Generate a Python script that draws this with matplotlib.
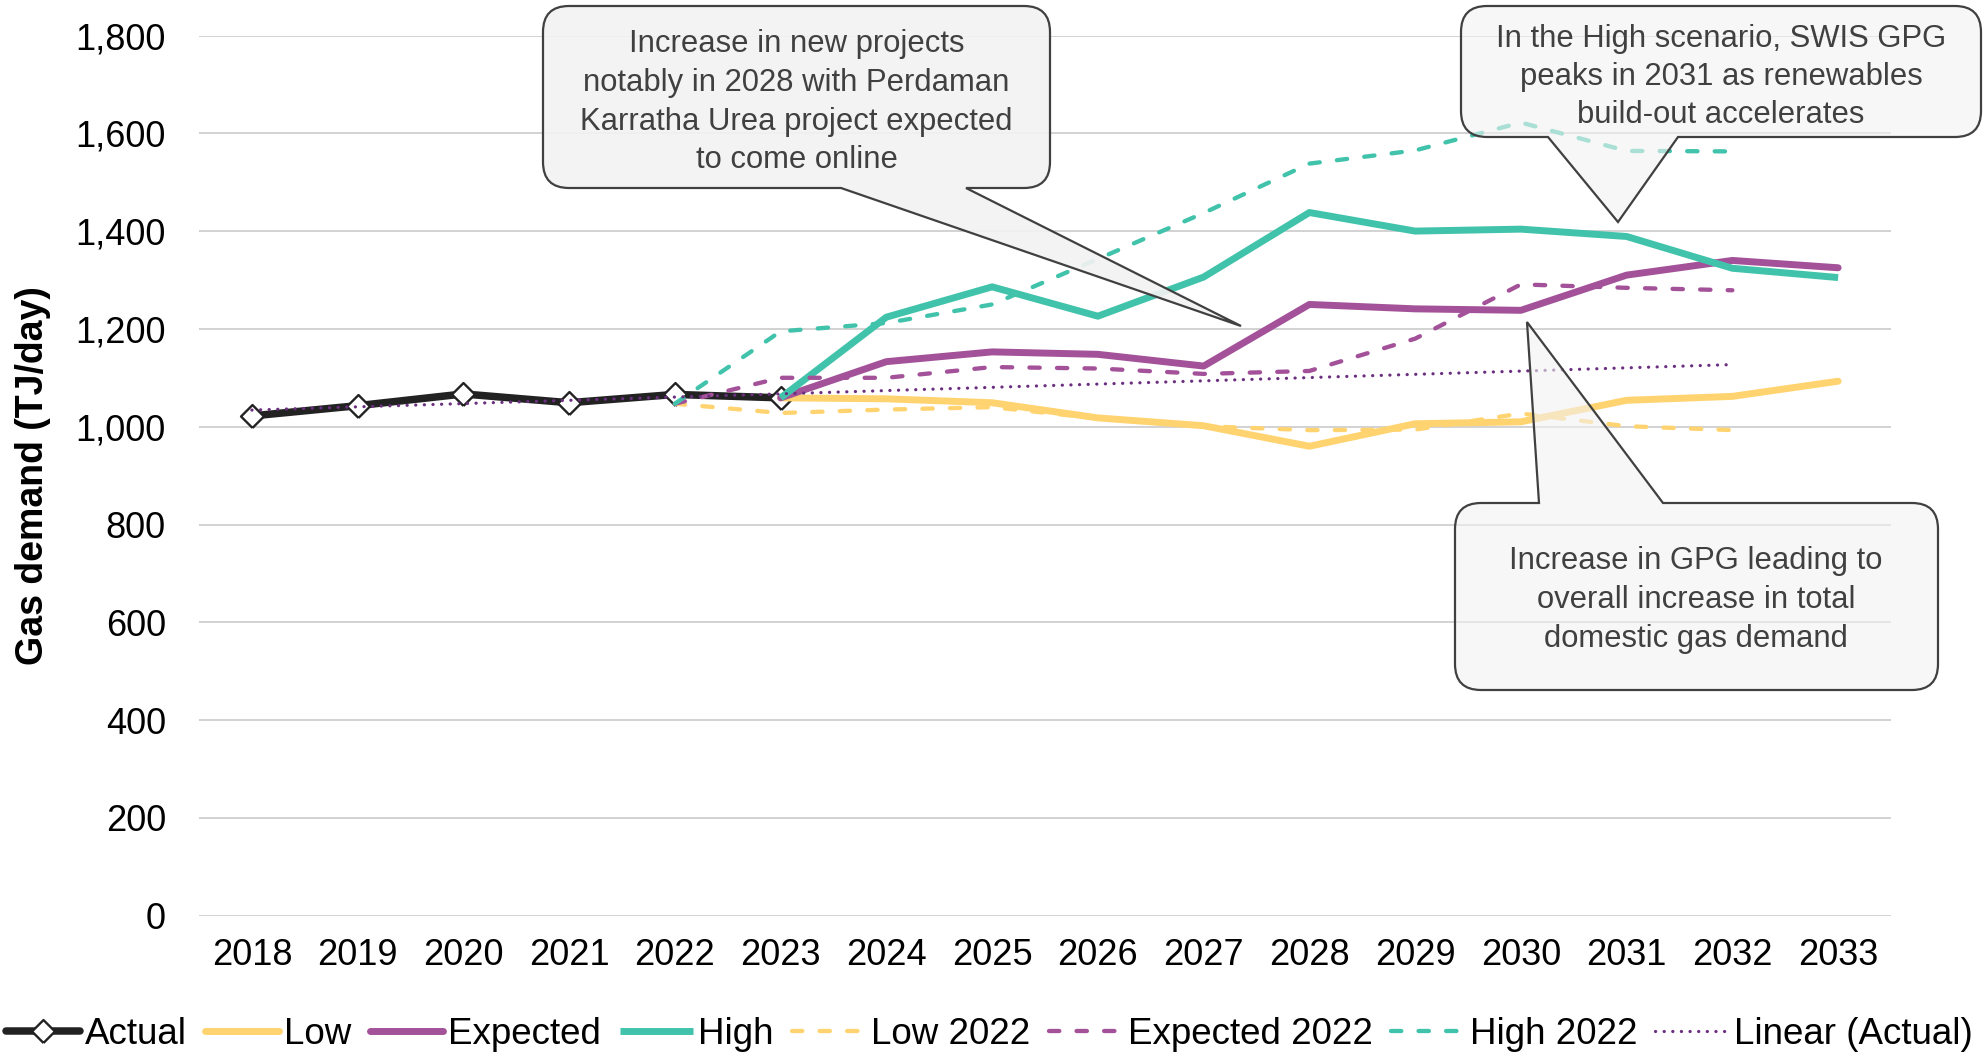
import numpy as np
import matplotlib
matplotlib.use('Agg')
import matplotlib.pyplot as plt
from matplotlib.path import Path
from matplotlib.patches import PathPatch
from matplotlib.transforms import Affine2D
from matplotlib.ticker import FuncFormatter, MultipleLocator

plt.rcParams['font.family'] = ['Liberation Sans', 'DejaVu Sans']

# ---------------- data ----------------
years = ['2018', '2019', '2020', '2021', '2022', '2023', '2024', '2025',
         '2026', '2027', '2028', '2029', '2030', '2031', '2032', '2033']

actual_years = ['2018', '2019', '2020', '2021', '2022', '2023']
actual = [1022, 1043, 1067, 1049, 1066, 1059]

scen_years = ['2023', '2024', '2025', '2026', '2027', '2028',
              '2029', '2030', '2031', '2032', '2033']
low = [1059, 1057, 1049, 1018, 1002, 960, 1006, 1010, 1054, 1062, 1093]
expected = [1059, 1133, 1153, 1148, 1124, 1250, 1241, 1238, 1310, 1340, 1325]
high = [1059, 1224, 1286, 1226, 1306, 1438, 1400, 1404, 1389, 1324, 1305]

prev_years = ['2022', '2023', '2024', '2025', '2026', '2027',
              '2028', '2029', '2030', '2031', '2032']
low_2022 = [1047, 1028, 1035, 1040, 1017, 1001, 993, 994, 1027, 1001, 993]
expected_2022 = [1047, 1100, 1100, 1122, 1119, 1108, 1114, 1180, 1291, 1284, 1279]
high_2022 = [1047, 1195, 1212, 1250, 1343, 1437, 1538, 1565, 1622, 1564, 1563]

trend_years = ['2018', '2032']
trend = [1034, 1127]

labels = ['Actual', 'Low', 'Expected', 'High', 'Low 2022', 'Expected 2022',
          'High 2022', 'Linear (Actual)']

# ---------------- styles ----------------
C_ACT = '#222222'
C_LOW = '#FFD470'
C_EXP = '#A35299'
C_HIGH = '#41C3AB'
C_LIN = '#6B2F80'
C_GRID = '#C6C6C6'
C_CALL = '#404040'

W, H = 1985, 1055
fig = plt.figure(figsize=(W / 100, H / 100), dpi=100)
ax_left, ax_right, ax_top, ax_bot = 199, 1891, 35.5, 915.7
ax = fig.add_axes([ax_left / W, 1 - ax_bot / H, (ax_right - ax_left) / W,
                   (ax_bot - ax_top) / H])

pos = {y: i for i, y in enumerate(years)}
def xs(ylist):
    return [pos[y] for y in ylist]

diamond = [(0, -1), (1, 0), (0, 1), (-1, 0), (0, -1)]

handles = []
h, = ax.plot(xs(actual_years), actual, color=C_ACT, lw=5.4, marker=diamond,
             markersize=16.5, markerfacecolor='white', markeredgecolor=C_ACT,
             markeredgewidth=1.7, solid_capstyle='round', solid_joinstyle='round',
             zorder=3)
handles.append(h)
for vals, col, cap in [(low, C_LOW, 'round'), (expected, C_EXP, 'round'),
                       (high, C_HIGH, 'butt')]:
    h, = ax.plot(xs(scen_years), vals, color=col, lw=5.0,
                 solid_capstyle=cap, solid_joinstyle='round', zorder=4)
    handles.append(h)
for vals, col in [(low_2022, C_LOW), (expected_2022, C_EXP), (high_2022, C_HIGH)]:
    h, = ax.plot(xs(prev_years), vals, color=col, lw=3.1,
                 linestyle=(0, (2.4, 4.0)), dash_capstyle='round',
                 dash_joinstyle='round', zorder=5)
    handles.append(h)
h, = ax.plot(xs(trend_years), trend, color=C_LIN, lw=2.3,
             linestyle=(0, (0.05, 2.65)), dash_capstyle='round', zorder=6)
handles.append(h)

ax.set_xlim(-0.5, len(years) - 0.5)
ax.set_ylim(0, 1800)
ax.set_xticks(range(len(years)))
ax.set_xticklabels(years)
ax.yaxis.set_major_locator(MultipleLocator(200))
ax.yaxis.set_major_formatter(FuncFormatter(lambda v, p: f'{v:,.0f}'))
ax.tick_params(axis='both', length=0, labelsize=26, colors='black')
ax.tick_params(axis='x', pad=16)
ax.tick_params(axis='y', pad=23.8)
ax.grid(axis='y', color=C_GRID, lw=1.1, zorder=0)
ax.set_axisbelow(True)
for s in ax.spines.values():
    s.set_visible(False)

fig.text(33 / W, 1 - 475.5 / H, 'Gas demand (TJ/day)', rotation=90,
         ha='center', va='center', fontsize=27, fontweight='bold')

fig.legend(handles, labels, loc='center', bbox_to_anchor=(0.4985, 0.0199),
           ncol=8, frameon=False, fontsize=26.5, handlelength=2.0,
           handletextpad=0.14, columnspacing=0.5, borderpad=0,
           borderaxespad=0)

# ---------------- callouts ----------------
px = Affine2D().scale(1 / W, -1 / H).translate(0, 1) + fig.transFigure

def callout_path(x0, y0, x1, y1, r, side, b0, b1, tip):
    verts, codes = [], []
    def mv(p):
        verts.append(p); codes.append(Path.MOVETO)
    def ln(p):
        verts.append(p); codes.append(Path.LINETO)
    def cv(c, p):
        verts.extend([c, p]); codes.extend([Path.CURVE3, Path.CURVE3])
    mv((x0 + r, y0))
    if side == 'top':
        ln((b0, y0)); ln(tip); ln((b1, y0))
    ln((x1 - r, y0)); cv((x1, y0), (x1, y0 + r))
    ln((x1, y1 - r)); cv((x1, y1), (x1 - r, y1))
    if side == 'bottom':
        ln((b1, y1)); ln(tip); ln((b0, y1))
    ln((x0 + r, y1)); cv((x0, y1), (x0, y1 - r))
    ln((x0, y0 + r)); cv((x0, y0), (x0 + r, y0))
    verts.append((x0 + r, y0)); codes.append(Path.CLOSEPOLY)
    return Path(verts, codes)

callouts = [
    dict(box=(543, 6, 1050, 188), side='bottom', base=(841, 966), tip=(1241, 326),
         alpha=0.92, cx=796.5,
         lines=['Increase in new projects', 'notably in 2028 with Perdaman',
                'Karratha Urea project expected', 'to come online'],
         base_y=[52, 91, 130, 168]),
    dict(box=(1461, 6, 1981, 137), side='bottom', base=(1548, 1678), tip=(1618, 222),
         alpha=0.6, cx=1721,
         lines=['In the High scenario, SWIS GPG', 'peaks in 2031 as renewables',
                'build-out accelerates'],
         base_y=[47, 85, 123]),
    dict(box=(1455, 503, 1938, 690), side='top', base=(1539, 1663), tip=(1527, 322),
         alpha=0.6, cx=1696,
         lines=['Increase in GPG leading to', 'overall increase in total',
                'domestic gas demand'],
         base_y=[569, 608, 647]),
]
for c in callouts:
    x0, y0, x1, y1 = c['box']
    p = callout_path(x0, y0, x1, y1, 26, c['side'], c['base'][0], c['base'][1], c['tip'])
    patch = PathPatch(p, transform=px, facecolor=(0.949, 0.949, 0.949, c['alpha']),
                      edgecolor=C_CALL, lw=1.6, zorder=10)
    fig.add_artist(patch)
    for line, by in zip(c['lines'], c['base_y']):
        fig.text(c['cx'] / W, 1 - by / H, line, ha='center', va='baseline',
                 fontsize=22.3, color=C_CALL, zorder=11)

fig.savefig('out.png', dpi=100)
